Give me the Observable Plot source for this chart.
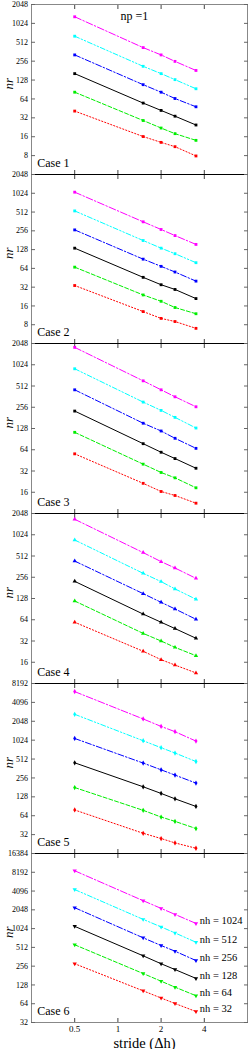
<!DOCTYPE html>
<html><head><meta charset="utf-8">
<script src="https://cdn.jsdelivr.net/npm/d3@7"></script>
<script src="https://cdn.jsdelivr.net/npm/@observablehq/plot@0.6"></script>
<style>
html,body{margin:0;padding:0;background:#fff;}
#chart{width:249px;}
#chart svg{display:block;overflow:visible;}
</style></head><body><div id="chart"></div>
<script>
// ---- data ----
const stride = [0.5, 1.5, 2, 2.5, 3.5];
const nh = [32, 64, 128, 256, 512, 1024];
const xTicks = [0.5, 1, 2, 4];
const caseNames = ["Case 1", "Case 2", "Case 3", "Case 4", "Case 5", "Case 6"];
// rows: nh = 32, 64, 128, 256, 512, 1024 ; columns: stride values
const case1 = [
  [41, 16.1, 13, 11.1, 7.9],
  [82, 29, 22, 17.9, 14],
  [162, 55, 42, 34, 24.6],
  [322, 108, 82, 65, 48],
  [640, 212, 162, 130, 93],
  [1305, 421, 322, 254, 182]
];
const case2 = [
  [34, 13, 10.1, 9.0, 7.0],
  [67, 24, 19, 15.1, 12],
  [135, 46, 35, 29.4, 21],
  [265, 90, 69, 56, 40],
  [534, 179, 135, 110, 79],
  [1067, 357, 269, 215, 155]
];
const case3 = [
  [56, 21.4, 16.4, 14.4, 11.2],
  [113, 40, 30.5, 25.6, 18.5],
  [226, 78, 59, 48, 35],
  [452, 152, 118, 93, 67],
  [898, 303, 231, 184, 130],
  [1805, 606, 452, 360, 260]
];
const case4 = [
  [59, 22.9, 17.4, 14.6, 11.3],
  [118, 41, 32, 26, 19.8],
  [224, 77, 59, 48, 35],
  [434, 150, 113, 91, 65],
  [863, 291, 222, 175, 125],
  [1696, 572, 426, 346, 247]
];
const case5 = [
  [79, 33.6, 27.7, 23.6, 19.4],
  [180, 78, 61, 52, 40],
  [446, 185, 145, 119, 90],
  [1090, 442, 345, 284, 212],
  [2645, 1003, 776, 639, 468],
  [6080, 2230, 1696, 1398, 990]
];
const case6 = [
  [280, 103, 79, 64.5, 48],
  [564, 195, 147, 118, 86],
  [1113, 375, 280, 226, 163],
  [2215, 729, 549, 445, 315],
  [4330, 1440, 1090, 874, 619],
  [8660, 2870, 2160, 1730, 1240]
];
const yDomains = [[4, 2048], [4, 2048], [8, 2048], [8, 2048], [16, 8192], [32, 16384]];
const yTicks = [
  [8, 16, 32, 64, 128, 256, 512, 1024, 2048],
  [8, 16, 32, 64, 128, 256, 512, 1024, 2048],
  [16, 32, 64, 128, 256, 512, 1024, 2048],
  [16, 32, 64, 128, 256, 512, 1024, 2048],
  [32, 64, 128, 256, 512, 1024, 2048, 4096, 8192],
  [32, 64, 128, 256, 512, 1024, 2048, 4096, 8192, 16384]
];

// ---- styles ----
const colors = ["#ff0000", "#00ee00", "#000000", "#0000ff", "#00ffff", "#ff00ff"];
const dashes = ["1.2,2", "4,2", null, "6,2,1.5,2", "5,2,1.5,2,1.5,2", "7,2,1.5,2"];
const sqrt3 = Math.sqrt(3);
const triDown = {draw(context, size) {
  const y = -Math.sqrt(size / (sqrt3 * 3));
  context.moveTo(0, -y * 2);
  context.lineTo(-sqrt3 * y, y);
  context.lineTo(sqrt3 * y, y);
  context.closePath();
}};
const symbols = ["square", "square", "square", "triangle", "diamond", triDown];

const cases = [case1, case2, case3, case4, case5, case6];
const innerH = [170, 169, 170, 170, 170, 169];
const fontFamily = "'Liberation Serif', 'Times New Roman', serif";
const chart = document.getElementById("chart");

cases.forEach((cs, c) => {
  const rows = nh.flatMap((n, i) => stride.map((s, j) => ({nh: n, stride: s, nr: cs[i][j]})));
  const mt = c === 0 ? 4 : 0;
  const mb = c === 5 ? 27 : 0;
  const marks = [
    Plot.frame({stroke: "#888"}),
    c > 0 ? Plot.frame({anchor: "top", stroke: "#000"}) : null,
    c < 5 ? Plot.frame({anchor: "bottom", stroke: "#000"}) : null,
    Plot.axisY({anchor: "left", ticks: yTicks[c], tickSize: -4, fill: "none", stroke: "#666", label: null}),
    Plot.axisY({anchor: "right", ticks: yTicks[c], tickSize: -4, fill: "none", stroke: "#666", label: null}),
    Plot.axisY({anchor: "left", ticks: yTicks[c], tickSize: 0, tickPadding: 3.5, tickFormat: d => String(d), label: null, fontSize: 8}),
    Plot.axisX({anchor: "top", ticks: xTicks, tickSize: -4, fill: "none", stroke: "#444", label: null}),
    Plot.axisX({anchor: "bottom", ticks: xTicks, tickSize: -4, fill: "none", stroke: "#444", label: null}),
    ...nh.map((n, i) => Plot.line(rows.filter(d => d.nh === n), {
      x: "stride", y: "nr", stroke: colors[i], strokeWidth: 1, strokeDasharray: dashes[i]
    })),
    Plot.dot(rows, {x: "stride", y: "nr", fill: "nh", symbol: symbols[c], r: 1.6}),
    Plot.text(["nr"], {text: d => d, frameAnchor: "left", dx: -23, rotate: -90, fontStyle: "italic", fontSize: 13}),
    Plot.text([caseNames[c]], {text: d => d, frameAnchor: "bottom-left", dx: 5.7, dy: -8, textAnchor: "start", lineAnchor: "bottom", fontSize: 12})
  ];
  if (c === 0) {
    marks.push(Plot.text(["np =1"], {text: d => d, frameAnchor: "top", dx: -19, dy: 12, textAnchor: "start", lineAnchor: "middle", fontSize: 12, ariaLabel: "title"}));
  }
  if (c === 5) {
    marks.push(Plot.axisX({anchor: "bottom", ticks: xTicks, tickSize: 0, tickPadding: 3, tickFormat: d => String(d), label: null, fontSize: 9}));
    marks.push(Plot.text(rows.filter(d => d.stride === stride[stride.length - 1]), {
      x: "stride", y: "nr", text: d => `nh = ${d.nh}`, textAnchor: "start", lineAnchor: "middle", dx: 3.8, dy: -3, fontSize: 10.5, ariaLabel: "nhlabels"
    }));
    marks.push(Plot.text(["stride (Δh)"], {text: d => d, frameAnchor: "bottom", dx: 5, dy: 25, lineAnchor: "bottom", fontSize: 14.5, ariaLabel: "xlabel"}));
  }
  const svg = Plot.plot({
    width: 249,
    height: innerH[c] + mt + mb,
    marginLeft: 31, marginRight: 2, marginTop: mt, marginBottom: mb,
    style: {fontFamily, fontSize: "8px", overflow: "visible", background: "transparent", color: "#000"},
    x: {type: "log", domain: [0.25, 8], axis: null},
    y: {type: "log", base: 2, domain: yDomains[c], axis: null},
    color: {type: "ordinal", domain: nh, range: colors},
    marks
  });
  chart.appendChild(svg);
  // mixed italic / upright text
  const sel = d3.select(svg);
  sel.selectAll('g[aria-label="title"] text').each(function() {
    const t = d3.select(this); t.text("");
    t.append("tspan").attr("font-style", "italic").text("np");
    t.append("tspan").text(" =1");
  });
  sel.selectAll('g[aria-label="nhlabels"] text').each(function() {
    const t = d3.select(this); const s = this.textContent; t.text("");
    t.append("tspan").attr("font-style", "italic").text("nh");
    t.append("tspan").text(s.slice(2));
  });
  sel.selectAll('g[aria-label="xlabel"] text').each(function() {
    const t = d3.select(this); t.text("");
    t.append("tspan").attr("font-style", "italic").text("stride");
    t.append("tspan").text(" (Δ");
    t.append("tspan").attr("font-style", "italic").text("h");
    t.append("tspan").text(")");
  });
});
</script></body></html>
